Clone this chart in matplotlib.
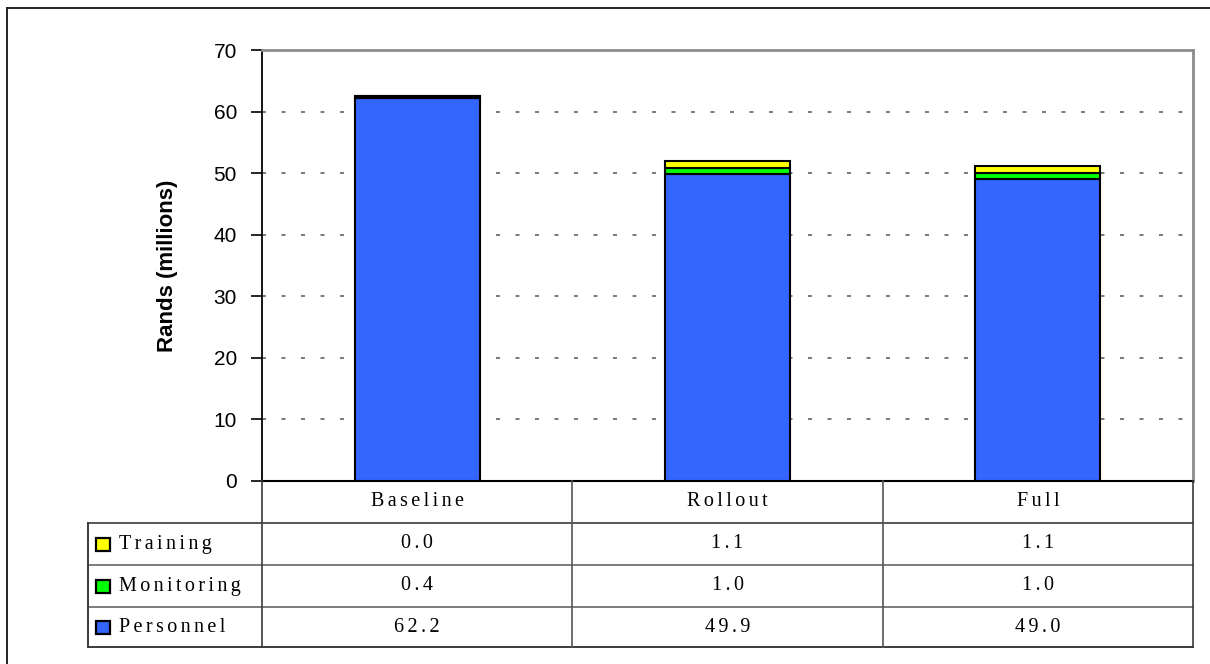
import matplotlib
matplotlib.use("Agg")
import matplotlib.pyplot as plt
import numpy as np
from matplotlib.patches import Rectangle

# data
scenarios = ["Baseline", "Rollout", "Full"]
personnel = [62.2, 49.9, 49.0]
monitoring = [0.4, 1.0, 1.0]
training = [0.0, 1.1, 1.1]

series_names = ["Training", "Monitoring", "Personnel"]
series_vals = [training, monitoring, personnel]
series_cols = ["#FFFF00", "#00FF00", "#3366FF"]

W, H = 1210, 664
fig = plt.figure(figsize=(W / 100, H / 100), dpi=100)

# pixel layout
px_l, px_r, px_t, px_b = 262, 1193, 50, 481
ax = fig.add_axes([px_l / W, 1 - px_b / H, (px_r - px_l) / W, (px_b - px_t) / H])

x = np.arange(len(scenarios))
bw = 0.403
ax.bar(x, personnel, bw, color="#3366FF", edgecolor="black", linewidth=1.5, zorder=3)
ax.bar(x, monitoring, bw, bottom=personnel, color="#00FF00", edgecolor="black", linewidth=1.5, zorder=3)
bot2 = np.array(personnel) + np.array(monitoring)
ax.bar(x, training, bw, bottom=bot2, color="#FFFF00", edgecolor="black", linewidth=1.5, zorder=3)

ax.set_xlim(-0.5, 2.5)
ax.set_ylim(0, 70)
ax.set_yticks(range(0, 71, 10))
ax.set_xticks([])
for y in range(10, 70, 10):
    ax.axhline(y, color="#707070", linewidth=1.3, linestyle=(0, (2.2, 8.6)), zorder=1)

ax.tick_params(axis="y", direction="out", length=8, width=1.2, labelsize=15, pad=10)
for lab in ax.get_yticklabels():
    lab.set_family("Liberation Sans")
ax.spines["left"].set_color("black")
ax.spines["left"].set_linewidth(1.3)
ax.spines["bottom"].set_color("black")
ax.spines["bottom"].set_linewidth(1.5)
ax.spines["top"].set_color("#8c8c8c")
ax.spines["top"].set_linewidth(2)
ax.spines["right"].set_color("#8c8c8c")
ax.spines["right"].set_linewidth(2)
ax.set_ylabel("Rands (millions)", fontsize=16, fontweight="bold", family="Liberation Sans", labelpad=26)

# table drawn in pixel coordinates
tb = fig.add_axes([0, 0, 1, 1], zorder=5)
tb.set_xlim(0, W)
tb.set_ylim(H, 0)
tb.axis("off")
tb.patch.set_alpha(0)

lc = "#3a3a3a"
col_w = (px_r - px_l) / len(scenarios)
row_y = [481, 523, 565, 607, 647]
tb.plot([88, px_r], [row_y[1]] * 2, color=lc, lw=1.2)
tb.plot([88, px_r], [row_y[2]] * 2, color="#666666", lw=1.2)
tb.plot([88, px_r], [row_y[3]] * 2, color="#666666", lw=1.2)
tb.plot([88, px_r], [row_y[4]] * 2, color=lc, lw=1.4)
tb.plot([88, 88], [row_y[1], row_y[4]], color=lc, lw=1.4)
for i in range(len(scenarios) + 1):
    xx = px_l + i * col_w
    tb.plot([xx, xx], [row_y[0], row_y[4]], color=lc if i in (0, 3) else "#555555", lw=1.2)

def spaced(s):
    return "\u2006".join(s)

tfont = dict(family=["Liberation Serif", "DejaVu Serif"], fontsize=14.5)
for i, name in enumerate(scenarios):
    tb.text(px_l + (i + 0.5) * col_w, (row_y[0] + row_y[1]) / 2, spaced(name),
            ha="center", va="center", **tfont)
for r, (name, vals, c) in enumerate(zip(series_names, series_vals, series_cols)):
    yc = (row_y[r + 1] + row_y[r + 2]) / 2
    tb.add_patch(Rectangle((96, yc - 6), 14, 13, facecolor=c, edgecolor="black", lw=1.6))
    tb.text(119, yc, spaced(name), ha="left", va="center", **tfont)
    for i, v in enumerate(vals):
        tb.text(px_l + (i + 0.5) * col_w, yc, spaced(f"{v:.1f}"), ha="center", va="center", **tfont)

# outer frame
tb.plot([7, 7], [8, H], color="#222222", lw=1.4)
tb.plot([7, W], [8, 8], color="#222222", lw=1.4)

fig.savefig("out.png", dpi=100)
